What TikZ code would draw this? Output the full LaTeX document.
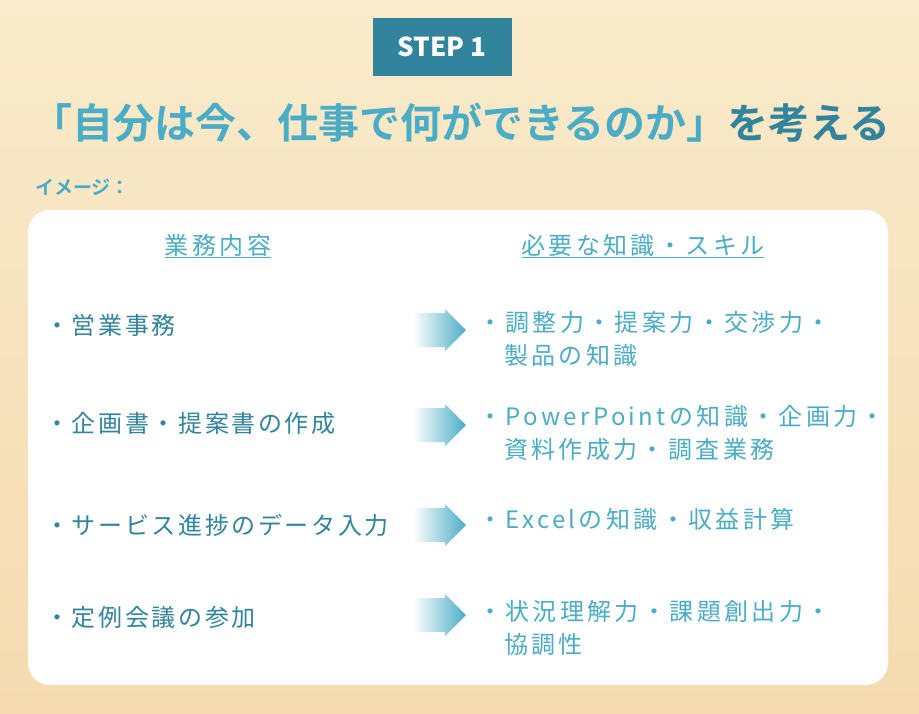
\documentclass[tikz,border=0pt]{standalone}
\usepackage{fontspec}
\setmainfont{Noto Sans CJK JP}
\newfontfamily\jp[LetterSpace=11]{Noto Sans CJK JP}
\newfontfamily\jpr[LetterSpace=14]{Noto Sans CJK JP}
\newfontfamily\jph[LetterSpace=14]{Noto Sans CJK JP}
\newfontfamily\jpt{Noto Sans CJK JP Bold}
\definecolor{dteal}{HTML}{31849B}
\definecolor{lblue}{HTML}{4BACC6}
\definecolor{bg1}{HTML}{F9EBCB}
\definecolor{bg2}{HTML}{F5DAB0}
\tikzset{
 lt/.style={anchor=west,text=dteal,font=\jp\fontsize{24}{30}\selectfont,inner sep=0},
 rt/.style={anchor=north west,text=lblue,font=\jpr\fontsize{24}{33}\selectfont,inner sep=0,align=left},
 hd/.style={text=lblue,font=\jph\fontsize{24}{30}\selectfont,inner sep=1pt},
 arr/.style={left color=white, right color=lblue, draw=none}
}
\begin{document}
\begin{tikzpicture}[x=1pt,y=-1pt]
\useasboundingbox (0,0) rectangle (919,713);
\shade[top color=bg1,bottom color=bg2] (0,0) rectangle (919,713);
\fill[white,rounded corners=22pt] (28,210) rectangle (888,685);
\node[fill=dteal,minimum width=139,minimum height=58,inner sep=0,text=white,font=\bfseries\fontsize{26}{30}\selectfont] (step) at (442,47) {STEP 1};
\node[font=\jpt\fontsize{41}{44}\selectfont,inner sep=0] (title) at (461,123) {\textcolor{lblue}{「自分は今、仕事で何ができるのか」}\textcolor{dteal}{を考える}};
\node[anchor=west,text=lblue,font=\jpt\fontsize{19}{22}\selectfont,inner sep=0] (img) at (35,187) {イメージ：};
\node[hd] (h1) at (218,246) {\underline{業務内容}};
\node[hd] (h2) at (643,246) {\underline{必要な知識・スキル}};
\foreach \y/\n in {330/a,425/b,525/c,615/d}{
 \shade[arr] (413,\y-17) -- (445,\y-17) -- (445,\y-21) -- (466,\y) -- (445,\y+21) -- (445,\y+17) -- (413,\y+17) -- cycle;
}
\node[lt] (l1) at (45,325) {・営業事務};
\node[lt] (l2) at (45,423) {・企画書・提案書の作成};
\node[lt] (l3) at (45,525) {・サービス進捗のデータ入力};
\node[lt] (l4) at (45,617) {・定例会議の参加};
\node[rt] (r1) at (478,311) {・調整力・提案力・交渉力・\\\hspace{26pt}製品の知識};
\node[rt] (r2) at (478,405) {・PowerPointの知識・企画力・\\\hspace{26pt}資料作成力・調査業務};
\node[rt] (r3) at (478,508) {・Excelの知識・収益計算};
\node[rt] (r4) at (478,600) {・状況理解力・課題創出力・\\\hspace{26pt}協調性};
\end{tikzpicture}
\end{document}
